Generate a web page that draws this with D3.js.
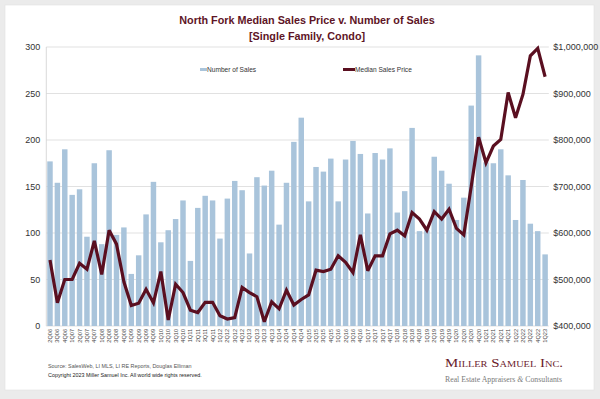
<!DOCTYPE html>
<html>
<head>
<meta charset="utf-8">
<script src="https://cdn.jsdelivr.net/npm/d3@7/dist/d3.min.js"></script>
<style>
  html, body { margin: 0; padding: 0; background: #ebebeb; }
  svg { display: block; }
  text { font-family: "Liberation Sans", Arial, sans-serif; }
</style>
</head>
<body>
<svg id="chart" width="600" height="399"></svg>
<script>
const quarters = ["2Q06","3Q06","4Q06",
  "1Q07","2Q07","3Q07","4Q07","1Q08","2Q08","3Q08","4Q08",
  "1Q09","2Q09","3Q09","4Q09","1Q10","2Q10","3Q10","4Q10",
  "1Q11","2Q11","3Q11","4Q11","1Q12","2Q12","3Q12","4Q12",
  "1Q13","2Q13","3Q13","4Q13","1Q14","2Q14","3Q14","4Q14",
  "1Q15","2Q15","3Q15","4Q15","1Q16","2Q16","3Q16","4Q16",
  "1Q17","2Q17","3Q17","4Q17","1Q18","2Q18","3Q18","4Q18",
  "1Q19","2Q19","3Q19","4Q19","1Q20","2Q20","3Q20","4Q20",
  "1Q21","2Q21","3Q21","4Q21","1Q22","2Q22","3Q22","4Q22",
  "1Q23"];

const numberOfSales = [177,154,190,141,147,96,175,88,189,98,106,56,76,120,155,90,103,
  115,135,70,127,140,135,94,137,156,146,78,160,151,167,109,154,
  198,224,134,171,166,180,134,179,199,185,121,186,179,191,122,145,
  213,102,103,182,167,153,114,138,237,291,176,175,190,162,114,157,110,102,77];

const medianSalesPrice = [542000,450000,500000,500000,535000,522000,583000,511000,606000,576000,495000,
  444000,449000,479000,450000,517000,413000,490000,472000,
  434000,429000,451000,451000,422000,415000,418000,483000,
  472000,463000,409000,452000,437000,477000,445000,457000,
  467000,520000,517000,522000,551000,537000,515000,596000,
  519000,551000,551000,598000,606000,594000,644000,630000,
  606000,646000,630000,651000,610000,596000,700000,806000,
  751000,787000,801000,902000,848000,898000,981000,997000,
  936000];

const salesTicks = [0,50,100,150,200,250,300];
const priceTicks = [400000,500000,600000,700000,800000,900000,1000000];

const titleLines = ["North Fork Median Sales Price v. Number of Sales", "[Single Family, Condo]"];
const legendLabels = ["Number of Sales", "Median Sales Price"];
const sourceLines = ["Source: SalesWeb, LI MLS, LI RE Reports, Douglas Elliman",
  "Copyright 2023 Miller Samuel Inc.  All world wide rights reserved."];

const BAR = "#a9c4db", LINE = "#5a0f20", TITLE = "#5e1526";

const svg = d3.select("#chart");

// panel
svg.append("rect").attr("x", 5).attr("y", 5).attr("width", 589).attr("height", 385)
  .attr("fill", "#ffffff").attr("stroke", "#e2e2e2").attr("stroke-width", 0.6);

const plotL = 46.3, plotR = 548.8, plotT = 47, plotB = 326;

const x = d3.scaleBand().domain(quarters).range([plotL, plotR]).paddingInner(0.26).paddingOuter(0.13);
const y = d3.scaleLinear().domain([0, 300]).range([plotB, plotT]);
const y2 = d3.scaleLinear().domain([400000, 1000000]).range([plotB, plotT]);

// gridlines
svg.append("g").selectAll("line").data(salesTicks).join("line")
  .attr("x1", plotL).attr("x2", plotR)
  .attr("y1", d => y(d)).attr("y2", d => y(d))
  .attr("stroke", "#d9d9d9").attr("stroke-width", 0.8);
svg.append("line").attr("x1", plotL).attr("x2", plotL).attr("y1", plotT).attr("y2", plotB)
  .attr("stroke", "#cfcfcf").attr("stroke-width", 0.8);

// bars
svg.append("g").selectAll("rect").data(numberOfSales).join("rect")
  .attr("x", (d, i) => x(quarters[i]))
  .attr("width", x.bandwidth())
  .attr("y", d => y(d))
  .attr("height", d => y(0) - y(d))
  .attr("fill", BAR);

// line
const line = d3.line()
  .x((d, i) => x(quarters[i]) + x.bandwidth() / 2)
  .y(d => y2(d));
svg.append("path").datum(medianSalesPrice)
  .attr("d", line).attr("fill", "none")
  .attr("stroke", LINE).attr("stroke-width", 3.2)
  .attr("stroke-linejoin", "miter").attr("stroke-miterlimit", 3);

// left axis
const axL = svg.append("g").attr("transform", `translate(${plotL},0)`)
  .call(d3.axisLeft(y).tickValues(salesTicks).tickSize(0).tickPadding(6));
axL.select(".domain").remove();
axL.selectAll("text").attr("font-size", 9).attr("fill", "#333").attr("font-family", "Liberation Sans, Arial, sans-serif");

// right axis
const axR = svg.append("g").attr("transform", `translate(${plotR},0)`)
  .call(d3.axisRight(y2).tickValues(priceTicks).tickSize(0).tickPadding(4.5).tickFormat(d3.format("$,.0f")));
axR.select(".domain").remove();
axR.selectAll("text").attr("font-size", 9).attr("fill", "#333").attr("font-family", "Liberation Sans, Arial, sans-serif");

// bottom axis
const axB = svg.append("g").attr("transform", `translate(0,${plotB})`)
  .call(d3.axisBottom(x).tickSize(0));
axB.select(".domain").remove();
axB.selectAll("text")
  .attr("transform", "rotate(-90)")
  .attr("x", -3).attr("y", 0).attr("dy", "0.35em")
  .attr("text-anchor", "end")
  .attr("font-size", 5.6).attr("fill", "#444")
  .attr("font-family", "Liberation Sans, Arial, sans-serif");

// title
svg.append("g").selectAll("text").data(titleLines).join("text")
  .attr("x", 307).attr("y", (d, i) => 24 + i * 15.5)
  .attr("text-anchor", "middle")
  .attr("font-size", 10.8).attr("font-weight", "bold").attr("fill", TITLE)
  .text(d => d);

// legend
const lg = svg.append("g");
lg.append("rect").attr("x", 200).attr("y", 68).attr("width", 7).attr("height", 3).attr("fill", BAR);
lg.append("text").attr("x", 207).attr("y", 71.5).attr("font-size", 6.6).attr("fill", "#333").text(legendLabels[0]);
lg.append("line").attr("x1", 343).attr("x2", 355).attr("y1", 69.5).attr("y2", 69.5)
  .attr("stroke", LINE).attr("stroke-width", 3);
lg.append("text").attr("x", 355).attr("y", 71.5).attr("font-size", 6.6).attr("fill", "#333").text(legendLabels[1]);

// source
svg.append("g").selectAll("text").data(sourceLines).join("text")
  .attr("x", 48).attr("y", (d, i) => 368 + i * 9)
  .attr("font-size", 5.4).attr("fill", (d, i) => i === 0 ? "#555" : "#222")
  .text(d => d);

// logo
svg.append("text").attr("x", 445).attr("y", 367)
  .attr("font-size", 11.5).attr("fill", "#6a1a2a")
  .attr("style", "font-variant: small-caps; font-family: 'Liberation Serif', serif;")
  .attr("textLength", 118).attr("lengthAdjust", "spacingAndGlyphs")
  .text("Miller Samuel Inc.");
const tag = svg.append("text").attr("x", 445).attr("y", 381.5)
  .attr("font-size", 7.8).attr("fill", "#7a7a7a")
  .attr("style", "font-family: 'Liberation Serif', serif;")
  .attr("textLength", 117).attr("lengthAdjust", "spacingAndGlyphs");
tag.append("tspan").text("Real Estate Appraisers ");
tag.append("tspan").attr("font-style", "italic").text("&");
tag.append("tspan").text(" Consultants");
</script>
</body>
</html>
